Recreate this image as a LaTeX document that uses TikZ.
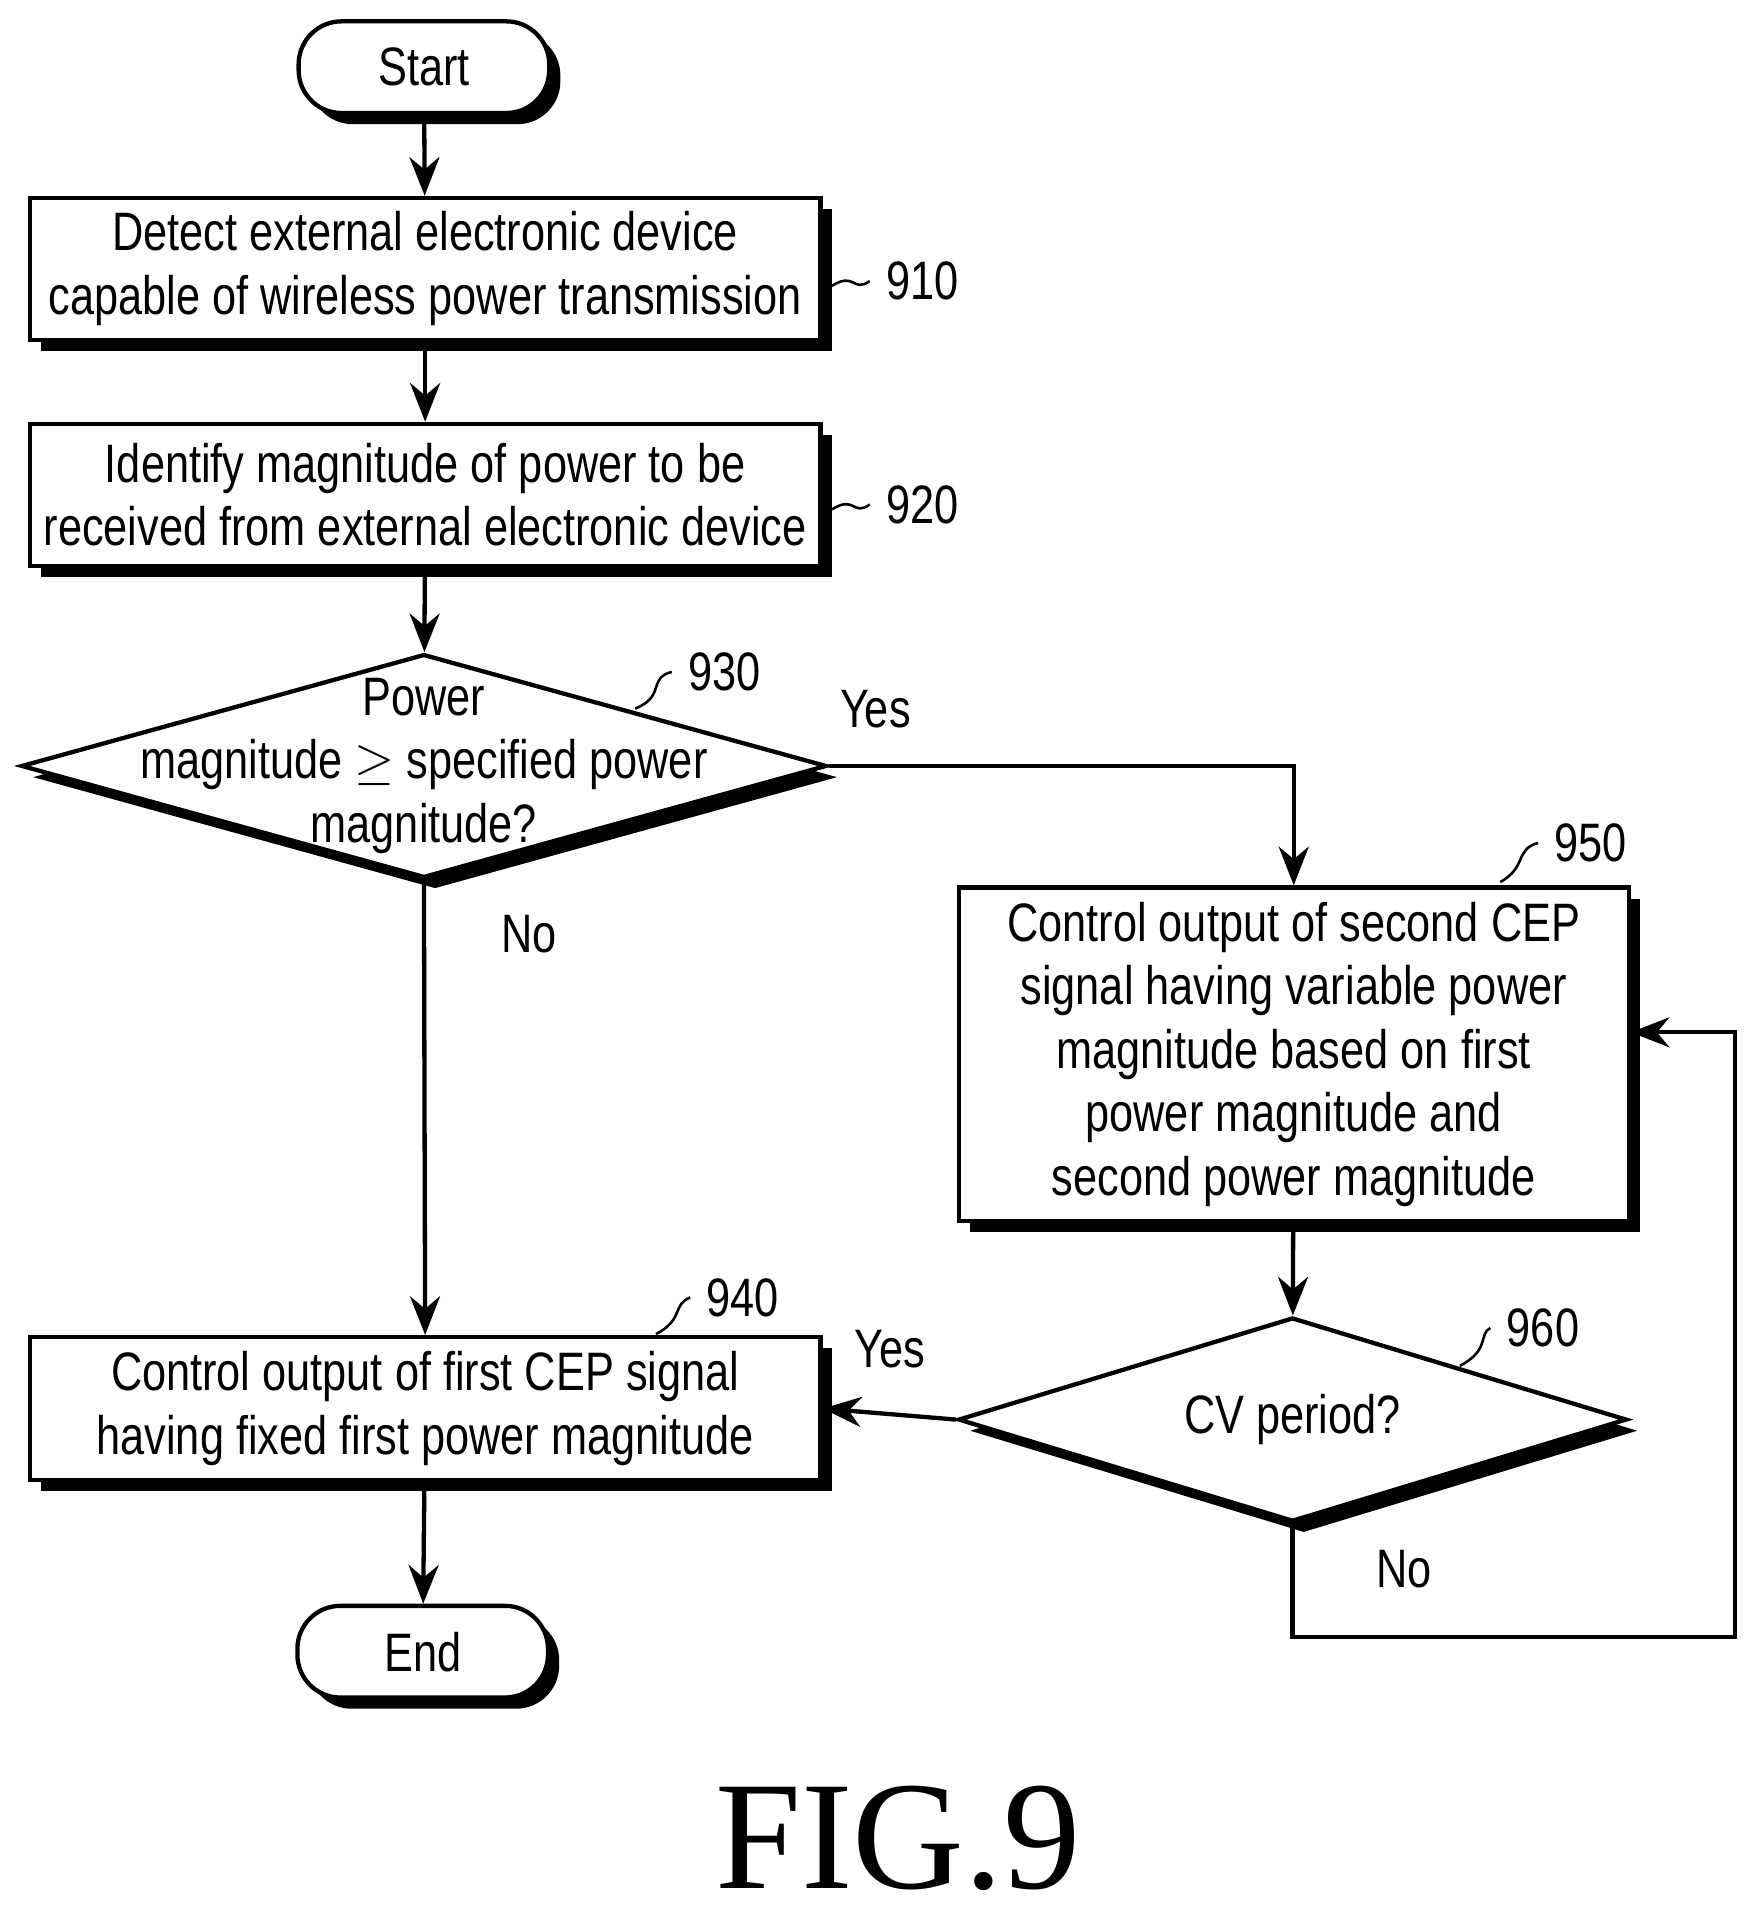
\documentclass[tikz,border=0pt]{standalone}
\usepackage{fontspec}
\setmainfont{Liberation Sans}[FakeStretch=0.8]
\newfontfamily\figfont{Liberation Serif}
\usetikzlibrary{arrows.meta, shapes.geometric, positioning}

\begin{document}
\begin{tikzpicture}[x=0.01cm, y=-0.01cm, >={Stealth[length=9pt,width=7pt]}, line width=1pt,
  font=\fontsize{12.6}{14.8}\selectfont,
  shadowed/.style={preaction={fill=black, transform canvas={shift={(2.6pt,-2.6pt)}}}},
  action/.style={rectangle, draw, fill=white, shadowed, align=center, inner sep=2pt},
  term/.style={rectangle, rounded corners=10pt, draw, fill=white, shadowed},
  test/.style={diamond, draw, fill=white, shadowed, inner sep=0pt},
  ref/.style={font=\fontsize{12.6}{14.8}\selectfont}]
  \useasboundingbox (0,0) rectangle (1440,1570);

  \node[term, minimum width=2.05cm, minimum height=0.75cm] (start) at (347,55) {Start};
  \node[action, minimum width=6.47cm, minimum height=1.16cm] (detect) at (348,220)
    {Detect external electronic device\\capable of wireless power transmission};
  \node[action, minimum width=6.47cm, minimum height=1.16cm] (identify) at (348,405)
    {Identify magnitude of power to be\\received from external electronic device};
  \node[test, minimum width=6.59cm, minimum height=1.83cm,
    label={[align=center]center:Power\\magnitude $\geq$ specified power\\magnitude?}] (check) at (347,627) {};
  \node[action, minimum width=5.48cm, minimum height=2.73cm] (second) at (1059,863)
    {Control output of second CEP\\signal having variable power\\magnitude based on first\\power magnitude and\\second power magnitude};
  \node[test, minimum width=5.47cm, minimum height=1.67cm, label=center:CV period?] (cv) at (1058,1162) {};
  \node[action, minimum width=6.47cm, minimum height=1.17cm] (first) at (348,1153)
    {Control output of first CEP signal\\having fixed first power magnitude};
  \node[term, minimum width=2.05cm, minimum height=0.75cm] (end) at (346,1352) {End};

  % reference numerals
  \node[ref] (n910) at (755,230) {910};
  \node[ref] (n920) at (755,413) {920};
  \node[ref] (n930) at (593,550) {930};
  \node[ref] (n950) at (1302,690) {950};
  \node[ref] (n960) at (1263,1087) {960};
  \node[ref] (n940) at (608,1062) {940};
  \draw[line width=0.6pt] (681,234) .. controls (700,222) and (698,240) .. (n910.west);
  \draw[line width=0.6pt] (681,417) .. controls (700,405) and (698,423) .. (n920.west);
  \draw[line width=0.6pt] (520,580) .. controls (545,570) and (530,555) .. (n930.west);
  \draw[line width=0.6pt] (1228,722) .. controls (1250,710) and (1240,695) .. (n950.west);
  \draw[line width=0.6pt] (1195,1118) .. controls (1220,1105) and (1210,1092) .. (n960.west);
  \draw[line width=0.6pt] (537,1092) .. controls (560,1080) and (550,1068) .. (n940.west);

  % flow
  \draw[->] (start) -- (detect);
  \draw[->] (detect) -- (identify);
  \draw[->] (identify) -- (check);
  \draw[->] (check.south) -- node[pos=0.12, right=0.5cm] {No} (first.north);
  \draw[->] (check.east) -- node[pos=0.1, above=5pt] {Yes} (second.north |- check.east) -- (second.north);
  \draw[->] (second) -- (cv);
  \draw[->] (cv.west) -- node[above=7pt] {Yes} (first.east);
  \coordinate (loopA) at (1058,1340);
  \coordinate (loopB) at (1420,1340);
  \coordinate (loopC) at (1420,845);
  \draw[->] (cv.south) -- node[pos=0.4, right=0.55cm] {No} (loopA) -- (loopB) -- (loopC) -- (second.east |- loopC);
  \draw[->] (first) -- (end);

  \node[font=\figfont\fontsize{36}{38}\selectfont] (fig) at (735,1505) {FIG.9};
\end{tikzpicture}
\end{document}
